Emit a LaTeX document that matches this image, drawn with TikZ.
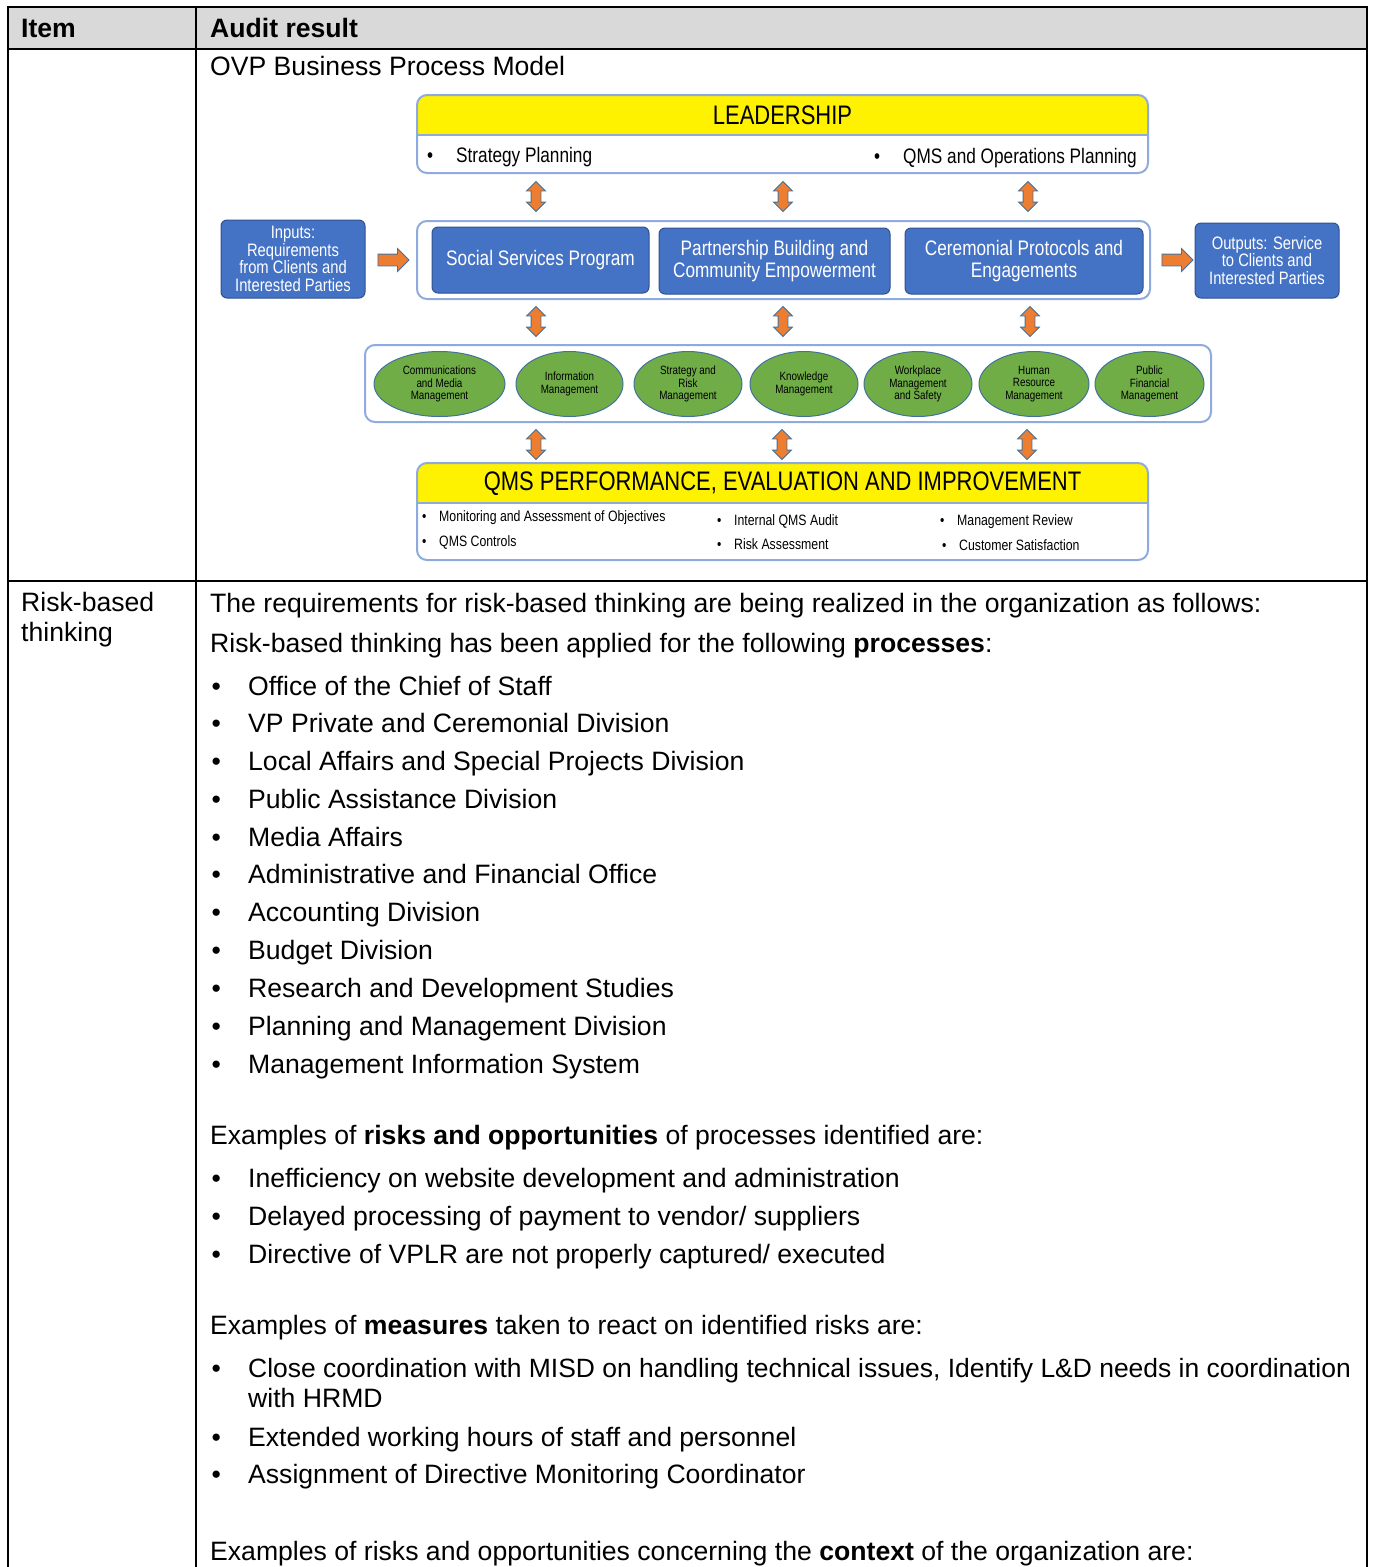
\documentclass[tikz,border=0pt]{standalone}
\usepackage{fontspec}
\setmainfont{Liberation Sans}
\newfontfamily\narrowf[FakeStretch=0.82]{Liberation Sans}
\usetikzlibrary{shapes.geometric,shapes.arrows}
\definecolor{hdrgray}{RGB}{217,217,217}
\definecolor{frameblue}{RGB}{143,170,220}
\definecolor{boxblue}{RGB}{68,114,196}
\definecolor{boxedge}{RGB}{47,82,143}
\definecolor{leafgreen}{RGB}{112,173,71}
\definecolor{arrorange}{RGB}{237,125,49}
\definecolor{arredge}{RGB}{65,113,156}
\tikzset{
  tbl/.style={line width=2pt, draw=black},
  body/.style={anchor=base west, inner sep=0pt, font=\fontsize{26.6}{30}\selectfont},
  frame/.style={draw=frameblue, line width=2pt, rounded corners=10pt, inner sep=0pt},
  bluebox/.style={fill=boxblue, draw=boxedge, line width=1pt, rounded corners=6pt, text=white,
    align=center, inner sep=0pt, font=\narrowf\fontsize{21}{21.5}\selectfont},
  iobox/.style={bluebox, font=\narrowf\fontsize{18}{17.7}\selectfont},
  leaf/.style={ellipse, fill=leafgreen, draw=arredge, line width=1pt, align=center,
    inner sep=0pt, minimum height=65pt, font=\narrowf\fontsize{12}{12.3}\selectfont},
  updown/.style={double arrow, rotate=90, fill=arrorange, draw=arredge, line width=0.8pt,
    minimum height=30pt, inner xsep=0pt, inner ysep=4.5pt, double arrow head extend=4.5pt},
  rarrow/.style={single arrow, fill=arrorange, draw=arredge, line width=0.8pt,
    minimum height=31pt, inner xsep=0pt, inner ysep=5.5pt, single arrow head extend=5.5pt},
  ttl/.style={inner sep=0pt, font=\narrowf\fontsize{26.8}{28}\selectfont},
  itm/.style={anchor=base west, inner sep=0pt, font=\narrowf\fontsize{21}{22}\selectfont},
  sitm/.style={anchor=base west, inner sep=0pt, font=\narrowf\fontsize{15}{16}\selectfont},
}
\begin{document}
\begin{tikzpicture}[x=1pt,y=-1pt]
\useasboundingbox (0,0) rectangle (1373,1567);
% ---------------- table
\fill[hdrgray] (8,7) rectangle (1367,49);
\draw[tbl] (8,1567) -- (8,7) -- (1367,7) -- (1367,1567);
\draw[tbl] (8,49) -- (1367,49);
\draw[tbl] (8,581) -- (1367,581);
\draw[tbl] (196,7) -- (196,1567);
\node[body] (hItem) at (21,37.5) {\bfseries Item};
\node[body] (hAudit) at (210,37.5) {\bfseries Audit result};
\node[body] (ovp) at (210,75) {OVP Business Process Model};
\node[body] (rb1) at (21,611) {Risk-based};
\node[body] (rb2) at (21,641) {thinking};
% ---------------- diagram: leadership
\begin{scope}
  \clip[rounded corners=10pt] (417,95) rectangle (1148,173);
  \fill[yellow] (417,95) rectangle (1148,135);
\end{scope}
\node[frame, minimum width=731pt, minimum height=78pt] (lead) at (782.5,134) {};
\draw[frameblue, line width=1.5pt] (lead.west |- 0,135) -- (lead.east |- 0,135);
\node[ttl] (leadt) at (782.5,115) {LEADERSHIP};
\node[itm] (lb1) at (427,162.5) {\textbullet};
\node[itm] (lt1) at (456,162.5) {Strategy Planning};
\node[itm] (lb2) at (874,163.5) {\textbullet};
\node[itm] (lt2) at (903,163.5) {QMS and Operations Planning};
% ---------------- processes
\node[frame, minimum width=733pt, minimum height=78pt] (proc) at (783.5,260) {};
\node[bluebox, minimum width=217pt, minimum height=66pt] (ssp) at (540.5,260) {Social Services Program};
\node[bluebox, minimum width=231pt, minimum height=66pt] (pbc) at (774.5,261) {Partnership Building and\\Community Empowerment};
\node[bluebox, minimum width=238pt, minimum height=66pt] (cpe) at (1024,261) {Ceremonial Protocols and\\Engagements};
\node[iobox, minimum width=144pt, minimum height=78pt] (inp) at (293,259) {Inputs:\\Requirements\\from Clients and\\Interested Parties};
\node[iobox, minimum width=144pt, minimum height=75pt] (outp) at (1267,260.5) {Outputs: Service\\to Clients and\\Interested Parties};
\node[rarrow] (ra1) at (390.5,260) {};
\node[rarrow] (ra2) at (1174.5,260) {};
% ---------------- support processes
\node[frame, minimum width=846pt, minimum height=77pt] (supp) at (788,383.5) {};
\node[leaf, minimum width=131pt] (e1) at (439.5,384) {Communications\\and Media\\Management};
\node[leaf, minimum width=107pt] (e2) at (569.5,384) {Information\\Management};
\node[leaf, minimum width=108pt] (e3) at (688,384) {Strategy and\\Risk\\Management};
\node[leaf, minimum width=108pt] (e4) at (804,384) {Knowledge\\Management};
\node[leaf, minimum width=108pt] (e5) at (918,384) {Workplace\\Management\\and Safety};
\node[leaf, minimum width=110pt] (e6) at (1034,384) {Human\\Resource\\Management};
\node[leaf, minimum width=109pt] (e7) at (1149.5,384) {Public\\Financial\\Management};
% ---------------- QMS performance
\begin{scope}
  \clip[rounded corners=10pt] (417,463) rectangle (1148,560);
  \fill[yellow] (417,463) rectangle (1148,503);
\end{scope}
\node[frame, minimum width=731pt, minimum height=97pt] (qms) at (782.5,511.5) {};
\draw[frameblue, line width=1.5pt] (qms.west |- 0,503) -- (qms.east |- 0,503);
\node[ttl] (qmst) at (782.5,484) {QMS PERFORMANCE, EVALUATION AND IMPROVEMENT};
\node[sitm] (qb1) at (422,521.5) {\textbullet};
\node[sitm] (qt1) at (439,521.5) {Monitoring and Assessment of Objectives};
\node[sitm] (qb2) at (422,546.5) {\textbullet};
\node[sitm] (qt2) at (439,546.5) {QMS Controls};
\node[sitm] (qb3) at (717,525.5) {\textbullet};
\node[sitm] (qt3) at (734,525.5) {Internal QMS Audit};
\node[sitm] (qb4) at (717,549.5) {\textbullet};
\node[sitm] (qt4) at (734,549.5) {Risk Assessment};
\node[sitm] (qb5) at (940,525.5) {\textbullet};
\node[sitm] (qt5) at (957,525.5) {Management Review};
\node[sitm] (qb6) at (942,550.5) {\textbullet};
\node[sitm] (qt6) at (959,550.5) {Customer Satisfaction};
% ---------------- up-down arrows
\node[updown] (a11) at (536,196.5) {};
\node[updown] (a12) at (783,196.5) {};
\node[updown] (a13) at (1028,196.5) {};
\node[updown] (a21) at (536,321.5) {};
\node[updown] (a22) at (783,321.5) {};
\node[updown] (a23) at (1030,321.5) {};
\node[updown] (a31) at (536,444.5) {};
\node[updown] (a32) at (782,444.5) {};
\node[updown] (a33) at (1027,444.5) {};
% ---------------- body text
\node[body] (p1) at (210,612) {The requirements for risk-based thinking are being realized in the organization as follows:};
\node[body] (p2) at (210,652) {Risk-based thinking has been applied for the following \textbf{processes}:};
\foreach \yy/\tx [count=\i] in {695/Office of the Chief of Staff,
  732/VP Private and Ceremonial Division,
  770/Local Affairs and Special Projects Division,
  808/Public Assistance Division,
  846/Media Affairs,
  883/Administrative and Financial Office,
  921/Accounting Division,
  959/Budget Division,
  997/Research and Development Studies,
  1035/Planning and Management Division,
  1073/Management Information System}{
  \node[body] (pb\i) at (211.5,\yy) {\textbullet};
  \node[body] (pt\i) at (248,\yy) {\tx};
}
\node[body] (p3) at (210,1144) {Examples of \textbf{risks and opportunities} of processes identified are:};
\node[body] (kb1) at (211.5,1187) {\textbullet};
\node[body] (kt1) at (248,1187) {Inefficiency on website development and administration};
\node[body] (kb2) at (211.5,1225) {\textbullet};
\node[body] (kt2) at (248,1225) {Delayed processing of payment to vendor/ suppliers};
\node[body] (kb3) at (211.5,1263) {\textbullet};
\node[body] (kt3) at (248,1263) {Directive of VPLR are not properly captured/ executed};
\node[body] (p4) at (210,1334) {Examples of \textbf{measures} taken to react on identified risks are:};
\node[body] (mb1) at (211.5,1377) {\textbullet};
\node[body, font=\fontsize{26.45}{30}\selectfont] (mt1) at (248,1377) {Close coordination with MISD on handling technical issues, Identify L\&D needs in coordination};
\node[body] (mt1b) at (248,1407) {with HRMD};
\node[body] (mb2) at (211.5,1446) {\textbullet};
\node[body] (mt2) at (248,1446) {Extended working hours of staff and personnel};
\node[body] (mb3) at (211.5,1483) {\textbullet};
\node[body] (mt3) at (248,1483) {Assignment of Directive Monitoring Coordinator};
\node[body] (p5) at (210,1560) {Examples of risks and opportunities concerning the \textbf{context} of the organization are:};
\end{tikzpicture}
\end{document}
